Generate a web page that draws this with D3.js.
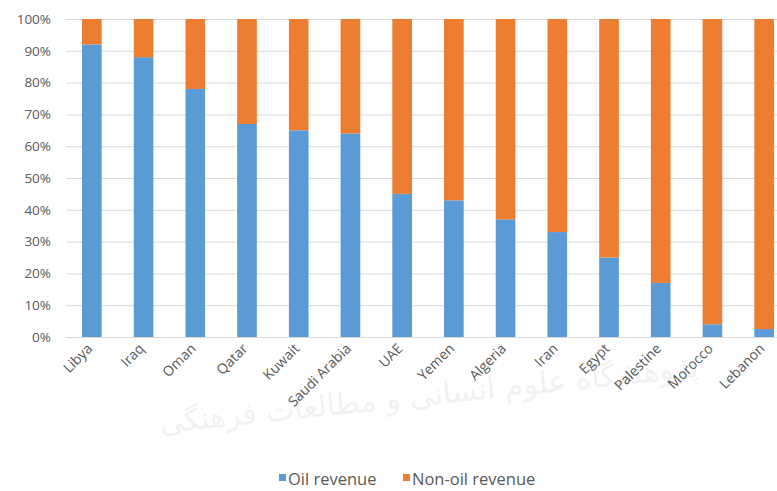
<!DOCTYPE html>
<html>
<head>
<meta charset="utf-8">
<script src="https://cdn.jsdelivr.net/npm/d3@7"></script>
<style>
  body { margin: 0; background: #fff; }
  text { font-family: "Open Sans", "Noto Sans", sans-serif; fill: #595959; }
</style>
</head>
<body>
<script>
var width = 777;
var height = 491;
var countries = ['Libya', 'Iraq', 'Oman', 'Qatar', 'Kuwait', 'Saudi Arabia', 'UAE', 'Yemen', 'Algeria', 'Iran', 'Egypt', 'Palestine', 'Morocco', 'Lebanon'];
var oil = [92, 88, 78, 67, 65, 64, 45, 43, 37, 33, 25, 17, 4, 2.5];
var nonOil = [8, 12, 22, 33, 35, 36, 55, 57, 63, 67, 75, 83, 96, 97.5];
var seriesNames = ['Oil revenue', 'Non-oil revenue'];
var colors = ['#5B9BD5', '#ED7D31'];
var yTicks = [0, 0.1, 0.2, 0.3, 0.4, 0.5, 0.6, 0.7, 0.8, 0.9, 1];

var rows = countries.map(function (c, i) {
  return { country: c, oil: oil[i], nonOil: nonOil[i] };
});
var stack = d3.stack().keys(['oil', 'nonOil']).offset(d3.stackOffsetExpand);
var layers = stack(rows);

var x = d3.scaleBand().domain(countries).range([66, 790]).paddingInner(0.62).paddingOuter(0.31);
var y = d3.scaleLinear().domain([0, 1]).range([337, 19]);

var svg = d3.select('body').append('svg').attr('width', width).attr('height', height);

// gridlines
svg.append('g').selectAll('line').data(yTicks).enter().append('line')
  .attr('x1', 66).attr('x2', width)
  .attr('y1', function (d) { return y(d) + 0.5; }).attr('y2', function (d) { return y(d) + 0.5; })
  .attr('stroke', '#d9d9d9').attr('stroke-width', 1);

// y labels
var yAxis = d3.axisLeft(y).tickValues(yTicks).tickFormat(d3.format('.0%')).tickSize(0).tickPadding(0);
var ya = svg.append('g').attr('transform', 'translate(51,0)').call(yAxis);
ya.select('.domain').remove();
ya.selectAll('text').style('font-size', '13.5px').style('fill', '#595959').style('font-family', '"Open Sans", sans-serif');

// bars
svg.append('g').selectAll('g').data(layers).enter().append('g')
  .attr('fill', function (d, i) { return colors[i]; })
  .selectAll('rect').data(function (d) { return d; }).enter().append('rect')
  .attr('x', function (d) { return x(d.data.country); })
  .attr('width', x.bandwidth())
  .attr('y', function (d) { return y(d[1]); })
  .attr('height', function (d) { return y(d[0]) - y(d[1]); });

// x labels
var xAxis = d3.axisBottom(x).tickSize(0).tickPadding(0);
var xa = svg.append('g').attr('transform', 'translate(-2,346)').call(xAxis);
xa.select('.domain').remove();
xa.selectAll('text')
  .attr('text-anchor', 'end')
  .attr('dy', '0.35em')
  .attr('transform', 'rotate(-45)')
  .style('font-size', '14px').style('fill', '#595959').style('font-family', '"Open Sans", sans-serif');

// faint watermark
svg.append('text')
  .attr('x', 430).attr('y', 405)
  .attr('text-anchor', 'middle')
  .attr('transform', 'rotate(-6,430,405)')
  .style('font-size', '30px').style('fill', '#000').style('opacity', 0.05)
  .style('font-family', '"DejaVu Sans", sans-serif')
  .text('پژوهشگاه علوم انسانی و مطالعات فرهنگی');

// legend
var legendX = [279, 403];
var lg = svg.append('g').selectAll('g').data(seriesNames).enter().append('g')
  .attr('transform', function (d, i) { return 'translate(' + legendX[i] + ',0)'; });
lg.append('rect').attr('x', 0).attr('y', 474).attr('width', 7).attr('height', 7)
  .attr('fill', function (d, i) { return colors[i]; });
lg.append('text').attr('x', 9).attr('y', 485)
  .style('font-size', '16.5px').text(function (d) { return d; });
</script>
</body>
</html>
